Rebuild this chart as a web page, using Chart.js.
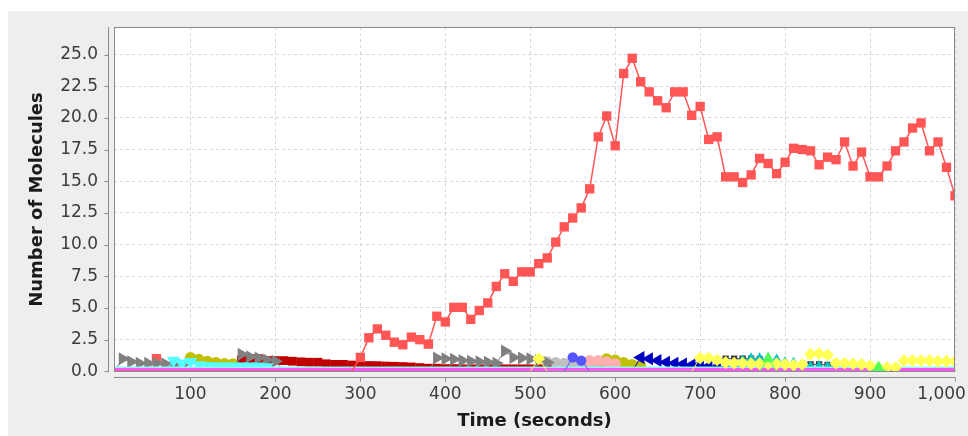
<!DOCTYPE html>
<html>
<head>
<meta charset="utf-8">
<script src="https://cdn.jsdelivr.net/npm/chart.js"></script>
<style>
    body { margin: 0; background: #ffffff; }
    #panel { position: absolute; left: 8px; top: 11px; width: 960px; height: 425px; background: #eeeeee; }
</style>
</head>
<body>
<div id="panel"><canvas id="chartMolecules" width="960" height="425"></canvas></div>
<script>
// simulation time points (seconds)
const times = [
    10, 20, 30, 40, 50, 60, 70, 80, 90, 100,
    110, 120, 130, 140, 150, 160, 170, 180, 190, 200,
    210, 220, 230, 240, 250, 260, 270, 280, 290, 300,
    310, 320, 330, 340, 350, 360, 370, 380, 390, 400,
    410, 420, 430, 440, 450, 460, 470, 480, 490, 500,
    510, 520, 530, 540, 550, 560, 570, 580, 590, 600,
    610, 620, 630, 640, 650, 660, 670, 680, 690, 700,
    710, 720, 730, 740, 750, 760, 770, 780, 790, 800,
    810, 820, 830, 840, 850, 860, 870, 880, 890, 900,
    910, 920, 930, 940, 950, 960, 970, 980, 990, 1000,
];

const xTicks = [100, 200, 300, 400, 500, 600, 700, 800, 900, 1000];
const yTicks = [0, 2.5, 5, 7.5, 10, 12.5, 15, 17.5, 20, 22.5, 25];

// main species (one value per time point)
const redValues = [
    0, 0, 0, 0, 0, 0, 0, 0, 0, 0,
    0, 0, 0, 0, 0, 0, 0, 0, 0, 0,
    0, 0, 0, 0, 0, 0, 0, 0, 0, 1.1,
    2.65, 3.35, 2.85, 2.3, 2.1, 2.7, 2.5, 2.15, 4.35, 3.9,
    5.05, 5.05, 4.1, 4.8, 5.4, 6.7, 7.7, 7.1, 7.85, 7.85,
    8.5, 8.95, 10.2, 11.4, 12.1, 12.9, 14.4, 18.5, 20.15, 17.8,
    23.5, 24.7, 22.85, 22.05, 21.35, 20.8, 22.05, 22.05, 20.2, 20.9,
    18.3, 18.5, 15.35, 15.35, 14.9, 15.5, 16.8, 16.4, 15.6, 16.5,
    17.6, 17.5, 17.4, 16.3, 16.9, 16.7, 18.1, 16.2, 17.3, 15.35,
    15.35, 16.2, 17.4, 18.1, 19.2, 19.6, 17.4, 18.1, 16.1, 13.85,
];

// low species, only where they leave zero: [time, value]
const blue = [[540, 0], [550, 1.1], [560, 0.85], [570, 0]];
const green = [[770, 0], [780, 1.0], [790, 0], [900, 0], [910, 0.3], [920, 0]];
const yellow = [
    [500, 0], [510, 1.0], [520, 0], [690, 0], [700, 1.05], [710, 1.05], [720, 0.9],
    [730, 0.7], [740, 0.65], [750, 0.65], [760, 0.6], [770, 0.6], [780, 0.6], [790, 0.6],
    [800, 0.55], [810, 0.5], [820, 0.55], [830, 1.35], [840, 1.4], [850, 1.3], [860, 0.65],
    [870, 0.65], [880, 0.6], [890, 0.55], [900, 0.45], [910, 0.3], [920, 0.3], [930, 0.3],
    [940, 0.85], [950, 0.85], [960, 0.85], [970, 0.85], [980, 0.8], [990, 0.8], [1000, 0.8],
];
const magenta = [[10, 0.12], [1000, 0.12]];
const lightCyan = [[10, 0.3], [1000, 0.3]];
const cyan = [
    [70, 0], [80, 0.85], [90, 0.65], [100, 0.75], [110, 0.5], [120, 0.45], [130, 0.4],
    [140, 0.4], [150, 0.4], [160, 0.4], [170, 0.4], [180, 0.4], [190, 0.35], [200, 0],
];
const pink = [[560, 0], [570, 0.85], [580, 0.85], [590, 0.75], [600, 0.6], [610, 0]];
const gray = [
    [10, 0], [20, 1.0], [30, 0.75], [40, 0.65], [50, 0.65], [60, 0.65], [70, 0.6], [80, 0.55],
    [90, 0.5], [100, 0], [150, 0], [160, 1.35], [170, 1.15], [180, 1.05], [190, 0.9], [200, 0.8],
    [210, 0], [380, 0], [390, 1.05], [400, 1.0], [410, 0.95], [420, 0.85], [430, 0.8], [440, 0.75],
    [450, 0.72], [460, 0.65], [470, 1.6], [480, 1.1], [490, 1.05], [500, 1.0], [510, 0.85],
    [520, 0.7], [530, 0],
];
const darkRed = [
    [150, 0], [160, 0.9], [170, 1.0], [180, 1.0], [190, 0.85], [200, 0.85], [210, 0.85],
    [220, 0.8], [230, 0.75], [240, 0.72], [250, 0.72], [260, 0.6], [270, 0.55], [280, 0.55],
    [290, 0.5], [300, 0.48], [310, 0.46], [320, 0.45], [330, 0.42], [340, 0.4], [350, 0.38],
    [360, 0.35], [370, 0.3], [380, 0.25], [390, 0.25], [400, 0.22], [410, 0.22], [420, 0.2],
    [430, 0.2], [440, 0.2], [450, 0.2], [460, 0.2], [470, 0.2], [480, 0.2], [490, 0.2],
    [500, 0.2], [510, 0.2], [520, 0.15], [530, 0],
];
const darkBlue = [
    [620, 0], [630, 1.1], [640, 1.0], [650, 0.85], [660, 0.72], [670, 0.65], [680, 0.58],
    [690, 0.5], [700, 0.55], [710, 0.4], [720, 0.3], [730, 0.25], [740, 0.2], [750, 0.2],
    [760, 0.2], [770, 0.2], [780, 0.2], [790, 0.15], [800, 0],
];
const olive = [
    [90, 0], [100, 1.1], [110, 0.95], [120, 0.8], [130, 0.7], [140, 0.62], [150, 0.6],
    [160, 0.55], [170, 0.5], [180, 0], [580, 0], [590, 1.0], [600, 0.9], [610, 0.7],
    [620, 0.55], [630, 0.45], [640, 0],
];
const darkCyan = [
    [740, 0], [750, 0.8], [760, 0.95], [770, 0.95], [780, 0.95], [790, 0.85], [800, 0.65],
    [810, 0.6], [820, 0.4], [830, 0.3], [840, 0.35], [850, 0.3], [860, 0],
];
const darkGray = [
    [710, 0], [720, 0.9], [730, 1.0], [740, 1.0], [750, 1.0], [760, 1.0], [770, 0.95],
    [780, 0.85], [790, 0.7], [800, 0.55], [810, 0.5], [820, 0.55], [830, 0.55], [840, 0.55],
    [850, 0.5], [860, 0.3], [870, 0.25], [880, 0.2], [890, 0.15], [900, 0],
];
const lightGray = [
    [510, 0], [520, 0.75], [530, 0.7], [540, 0.65], [550, 0.6], [560, 0.6], [570, 0.55],
    [580, 0.5], [590, 0.5], [600, 0.45], [610, 0],
];
const lightRed = [[50, 0], [60, 1.0], [70, 0]];

const toPoints = (pairs) => pairs.map((p) => ({ x: p[0], y: p[1] }));

// series in rendering order: first one is drawn on top
const series = [
    { label: "Red", color: "#ff5555", shape: "rect", rot: 0, r: 6.6, width: 1.5, data: times.map((t, i) => ({ x: t, y: redValues[i] })) },
    { label: "Blue", color: "#5555ff", shape: "circle", rot: 0, r: 5.2, width: 1, data: toPoints(blue) },
    { label: "Green", color: "#55ff55", shape: "triangle", rot: 0, r: 7, width: 1, data: toPoints(green) },
    { label: "Yellow", color: "#ffff55", shape: "rectRot", rot: 0, r: 6.4, width: 1, data: toPoints(yellow) },
    { label: "Magenta", color: "#ff55ff", shape: false, rot: 0, r: 0, width: 3.5, data: toPoints(magenta) },
    { label: "Light cyan", color: "#8ff5f5", shape: false, rot: 0, r: 0, width: 2, data: toPoints(lightCyan) },
    { label: "Cyan", color: "#55ffff", shape: "triangle", rot: 180, r: 7.5, width: 1, data: toPoints(cyan) },
    { label: "Pink", color: "#ffafaf", shape: "circle", rot: 0, r: 5.5, width: 1, data: toPoints(pink) },
    { label: "Gray", color: "#808080", shape: "triangle", rot: 90, r: 7.5, width: 1, data: toPoints(gray) },
    { label: "Dark red", color: "#c00000", shape: "rect", rot: 0, r: 6.2, width: 1, data: toPoints(darkRed) },
    { label: "Dark blue", color: "#0000c0", shape: "triangle", rot: 270, r: 7.5, width: 1, data: toPoints(darkBlue) },
    { label: "Olive", color: "#c0c000", shape: "circle", rot: 0, r: 5.5, width: 1, data: toPoints(olive) },
    { label: "Dark cyan", color: "#00c0c0", shape: "triangle", rot: 0, r: 7, width: 1, data: toPoints(darkCyan) },
    { label: "Dark gray", color: "#404040", shape: "rect", rot: 0, r: 4.5, width: 1, data: toPoints(darkGray) },
    { label: "Light gray", color: "#c0c0c0", shape: "circle", rot: 0, r: 5.5, width: 1, data: toPoints(lightGray) },
    { label: "Light red", color: "#ff5a5a", shape: "rect", rot: 0, r: 6.6, width: 1, data: toPoints(lightRed) },
];

// white plot, frame and the detached JFreeChart-like axes
const plotFrame = {
    id: "plotFrame",
    beforeDraw(chart) {
        const { ctx, chartArea: a } = chart;
        ctx.save();
        ctx.fillStyle = "#ffffff";
        ctx.fillRect(a.left, a.top, a.right - a.left, a.bottom - a.top);
        ctx.restore();
    },
    afterDraw(chart) {
        const { ctx, chartArea: a, scales } = chart;
        ctx.save();
        ctx.strokeStyle = "#8a8a8a";
        ctx.lineWidth = 1;
        ctx.strokeRect(a.left + 0.5, a.top + 0.5, a.right - a.left - 1, a.bottom - a.top - 1);

        ctx.strokeStyle = "#8c8c8c";
        ctx.beginPath();
        const ax = Math.round(a.left - 6) + 0.5;
        ctx.moveTo(ax, a.top);
        ctx.lineTo(ax, a.bottom);
        scales.y.ticks.forEach((t) => {
            const y = Math.round(scales.y.getPixelForValue(t.value)) + 0.5;
            ctx.moveTo(ax - 4, y);
            ctx.lineTo(ax, y);
        });
        const ay = Math.round(a.bottom + 5) + 0.5;
        ctx.moveTo(a.left, ay);
        ctx.lineTo(a.right, ay);
        scales.x.ticks.forEach((t) => {
            const x = Math.round(scales.x.getPixelForValue(t.value)) + 0.5;
            ctx.moveTo(x, ay);
            ctx.lineTo(x, ay + 4);
        });
        ctx.stroke();
        ctx.restore();
    },
};

const ctx = document.getElementById("chartMolecules");

new Chart(ctx, {
    type: "line",
    data: {
        datasets: series.map((s) => ({
            label: s.label,
            data: s.data,
            borderColor: s.color,
            borderWidth: s.width,
            backgroundColor: s.color,
            pointBackgroundColor: s.color,
            pointBorderWidth: 0,
            pointStyle: s.shape,
            pointRotation: s.rot,
            pointRadius: (c) => (c.raw && c.raw.y === 0 ? 0 : s.r),
            pointHoverRadius: s.r,
            tension: 0,
            clip: 0,
        })),
    },
    options: {
        responsive: false,
        animation: false,
        devicePixelRatio: 1,
        layout: { padding: { left: 0, top: 16, right: 13, bottom: 0 } },
        plugins: {
            legend: { display: false },
            tooltip: { enabled: false },
        },
        scales: {
            x: {
                type: "linear",
                min: 10,
                max: 1000,
                afterBuildTicks: (scale) => {
                    scale.ticks = xTicks.map((v) => ({ value: v }));
                },
                afterFit: (scale) => {
                    scale.height = 64;
                    scale.paddingLeft = 0;
                    scale.paddingRight = 0;
                },
                grid: { color: "#d6d6d6", lineWidth: 1, drawTicks: false },
                border: { display: false, dash: [3, 3] },
                ticks: {
                    padding: 12,
                    maxRotation: 0,
                    autoSkip: false,
                    color: "#3c3c3c",
                    font: { family: "DejaVu Sans", size: 17 },
                    callback: (v) => (v === 1000 ? "1,000\u00a0\u00a0\u00a0\u00a0\u00a0" : v.toLocaleString("en-US")),
                },
                title: {
                    display: true,
                    text: "Time (seconds)",
                    color: "#1a1a1a",
                    font: { family: "DejaVu Sans", size: 18, weight: "bold" },
                    padding: { top: 0, bottom: 4 },
                },
            },
            y: {
                type: "linear",
                min: -0.05,
                max: 27.17,
                afterBuildTicks: (scale) => {
                    scale.ticks = yTicks.map((v) => ({ value: v }));
                },
                afterFit: (scale) => {
                    scale.width = 106;
                    scale.paddingTop = 0;
                    scale.paddingBottom = 0;
                },
                grid: { color: "#d6d6d6", lineWidth: 1, drawTicks: false },
                border: { display: false, dash: [3, 3] },
                ticks: {
                    padding: 16,
                    autoSkip: false,
                    color: "#3c3c3c",
                    font: { family: "DejaVu Sans", size: 17 },
                    callback: (v) => v.toFixed(1),
                },
                title: {
                    display: true,
                    text: "Number of Molecules",
                    color: "#1a1a1a",
                    font: { family: "DejaVu Sans", size: 18, weight: "bold" },
                    padding: { top: 19, bottom: 0 },
                },
            },
        },
    },
    plugins: [plotFrame],
});
</script>
</body>
</html>
